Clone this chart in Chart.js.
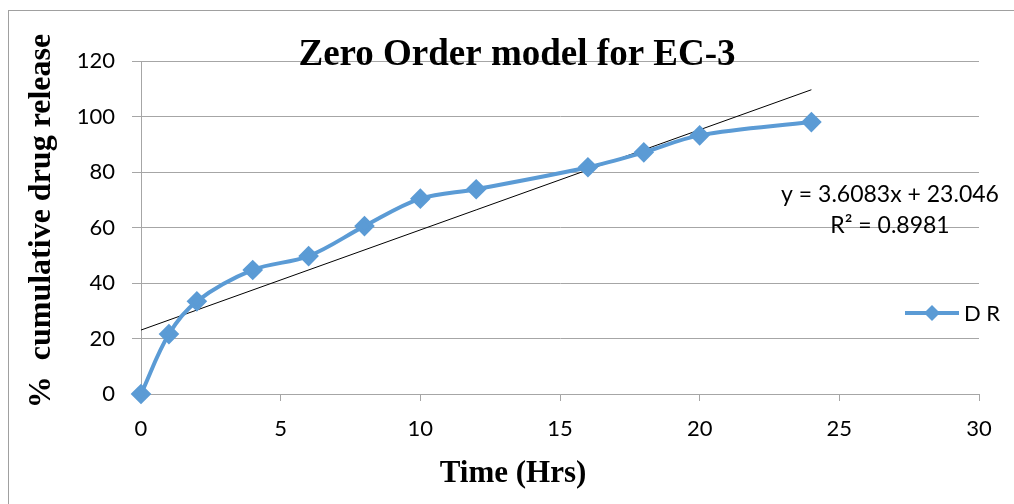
<!DOCTYPE html>
<html>
<head>
<meta charset="utf-8">
<script src="https://cdn.jsdelivr.net/npm/chart.js@4.4.1/dist/chart.umd.min.js"></script>
<style>
  html, body { margin: 0; padding: 0; background: #fff; }
  #wrap { width: 1014px; height: 504px; }
</style>
</head>
<body>
<div id="wrap"><canvas id="zeroOrderChart" width="1014" height="504"></canvas></div>
<script>
// data
const timeHrs = [0, 1, 2, 4, 6, 8, 10, 12, 16, 18, 20, 24];
const drugRelease = [0, 21.6, 33.4, 44.7, 49.7, 60.5, 70.4, 73.8, 81.7, 87.1, 93.2, 98.0];
const trendSlope = 3.6083;
const trendIntercept = 23.046;
const trendX = [0, 24];
const xTicks = [0, 5, 10, 15, 20, 25, 30];
const yTicks = [0, 20, 40, 60, 80, 100, 120];

const BLUE = '#5b9bd5';
const GRID = '#a6a6a6';
const SANS = 'Lato, "Open Sans", sans-serif';
const SERIF = '"Liberation Serif", "DejaVu Serif", serif';

const drPoints = timeHrs.map((t, i) => ({ x: t, y: drugRelease[i] }));
const trendPoints = trendX.map(t => ({ x: t, y: trendSlope * t + trendIntercept }));

// texts, border and legend drawn on top of the chart
const overlayPlugin = {
    id: 'overlay',
    afterDraw(chart) {
        const c = chart.ctx;
        c.save();

        // outer frame
        c.strokeStyle = '#a0a0a0';
        c.lineWidth = 1;
        c.strokeRect(8.5, 10.5, 1020, 510);

        // title
        c.fillStyle = '#000';
        c.font = 'bold 37px ' + SERIF;
        c.textAlign = 'center';
        c.textBaseline = 'alphabetic';
        c.fillText('Zero Order model for EC-3', 517, 65);

        // x title
        c.font = 'bold 31px ' + SERIF;
        c.fillText('Time (Hrs)', 513, 482);

        // y title
        c.save();
        c.translate(50, 221);
        c.rotate(-Math.PI / 2);
        c.font = 'bold 32px ' + SERIF;
        c.textBaseline = 'alphabetic';
        c.fillText('%  cumulative drug release', 0, 0);
        c.restore();

        // trendline equation
        c.font = '23px ' + SANS;
        c.textBaseline = 'middle';
        c.fillText('y = ' + trendSlope + 'x + ' + trendIntercept.toFixed(3), 890, 195);
        c.fillText('R² = 0.8981', 890, 226);

        // legend
        c.strokeStyle = BLUE;
        c.lineWidth = 4;
        c.beginPath();
        c.moveTo(905, 313);
        c.lineTo(959, 313);
        c.stroke();
        c.fillStyle = BLUE;
        c.beginPath();
        c.moveTo(932, 305);
        c.lineTo(940, 313);
        c.lineTo(932, 321);
        c.lineTo(924, 313);
        c.closePath();
        c.fill();
        c.fillStyle = '#000';
        c.textAlign = 'left';
        c.font = '22px ' + SANS;
        c.fillText('D R', 964, 314);

        c.restore();
    }
};

const ctx = document.getElementById('zeroOrderChart').getContext('2d');
const zeroOrderChart = new Chart(ctx, {
    type: 'line',
    data: {
        datasets: [
            {
                label: 'D R',
                data: drPoints,
                borderColor: BLUE,
                backgroundColor: BLUE,
                borderWidth: 4,
                pointStyle: 'rectRot',
                pointRadius: 7.5,
                pointHoverRadius: 7.5,
                tension: 0.35,
                fill: false,
                clip: false
            },
            {
                label: 'Linear (D R)',
                data: trendPoints,
                borderColor: '#000',
                borderWidth: 1,
                pointRadius: 0,
                tension: 0,
                fill: false
            }
        ]
    },
    options: {
        responsive: false,
        animation: false,
        layout: { padding: { left: 0, right: 35, top: 61, bottom: 0 } },
        plugins: {
            legend: { display: false },
            title: { display: false },
            tooltip: { enabled: false }
        },
        scales: {
            x: {
                type: 'linear',
                min: 0,
                max: 30,
                afterBuildTicks: scale => { scale.ticks = xTicks.map(v => ({ value: v })); },
                afterFit: scale => { scale.height = 110; },
                grid: { drawOnChartArea: false, drawTicks: true, tickLength: 7, color: GRID },
                border: { display: true, color: GRID, width: 1 },
                ticks: { color: '#000', font: { family: SANS, size: 22 }, padding: 15, maxRotation: 0 }
            },
            y: {
                type: 'linear',
                min: 0,
                max: 120,
                afterBuildTicks: scale => { scale.ticks = yTicks.map(v => ({ value: v })); },
                afterFit: scale => { scale.width = 141; },
                grid: { color: GRID, drawTicks: true, tickLength: 9 },
                border: { display: true, color: GRID, width: 1 },
                ticks: { color: '#000', font: { family: SANS, size: 22 }, padding: 17 }
            }
        }
    },
    plugins: [overlayPlugin]
});
</script>
</body>
</html>
